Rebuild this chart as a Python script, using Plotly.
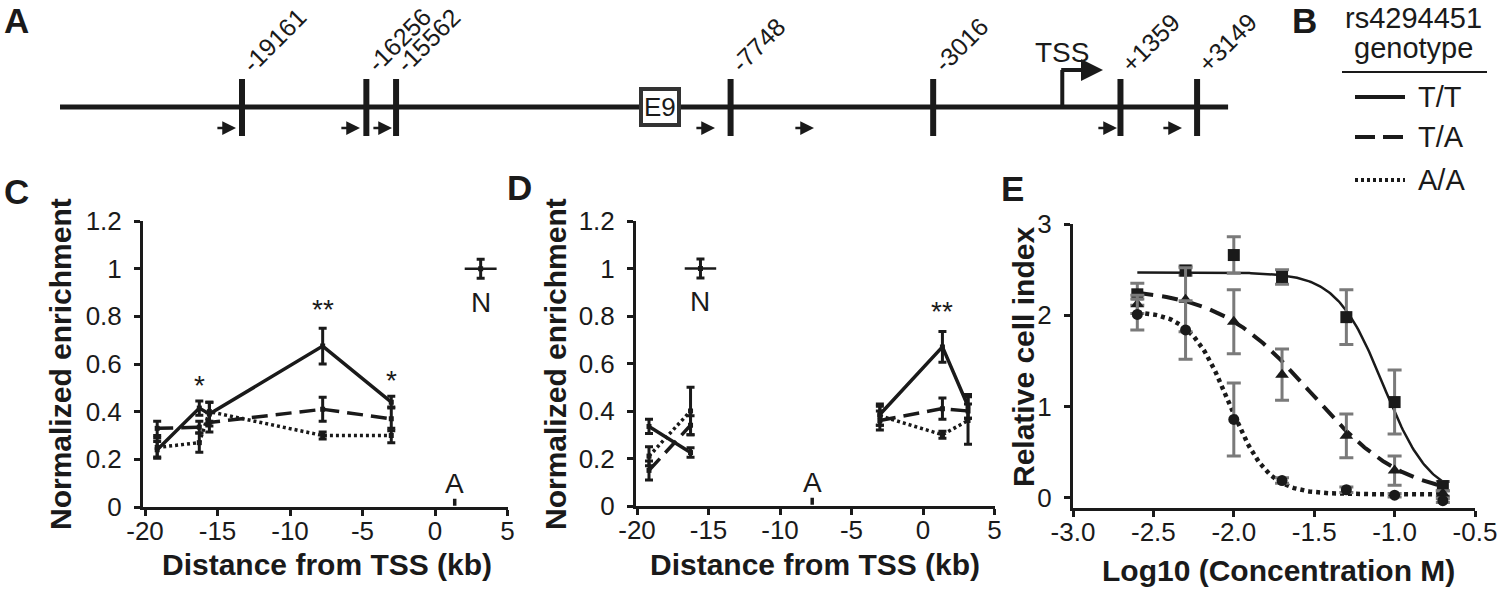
import numpy as np
import plotly.graph_objects as go

W, H = 1500, 590
FONT = "Liberation Sans, Arial, Helvetica, sans-serif"
INK = "#1a1a1a"
GRAY = "#7a7a7a"

# ---------------- Panel A: amplicon map (bp relative to TSS) ----------------
site_bp = [-19161, -16256, -15562, -7748, -3016, 1359, 3149]
site_labels = ["-19161", "-16256", "-15562", "-7748", "-3016", "+1359", "+3149"]
primer_end_bp = [-19301, -16405, -15657, -8112, -5800, 1278, 2796]
primer_len_bp = 470
gene_start_bp, gene_end_bp = -23412, 3873
tss_bp = 0
tss_arrow_end_bp = 951
e9_bp = -9400

# ---------------- Panel C ----------------
c_x = [-19.161, -16.256, -15.562, -7.748, -3.016]
c_tt = [0.24, 0.415, 0.39, 0.675, 0.44]
c_tt_err = [0.035, 0.03, 0.05, 0.075, 0.025]
c_ta = [0.33, 0.335, 0.355, 0.41, 0.37]
c_ta_err = [0.03, 0.025, 0.04, 0.05, 0.05]
c_aa = [0.25, 0.27, 0.40, 0.30, 0.30]
c_aa_err = [0.04, 0.04, 0.04, 0.015, 0.03]
c_n_x, c_n_y, c_n_err = 3.149, 1.0, 0.04
c_a_x, c_a_y, c_a_err = 1.359, 0.02, 0.015
c_star_x = [-16.256, -7.748, -3.016]
c_star_y = [0.51, 0.83, 0.53]
c_star_txt = ["*", "**", "*"]

# ---------------- Panel D ----------------
d_x = [-19.161, -16.256, None, -3.016, 1.359, 3.149]
d_tt = [0.335, 0.225, None, 0.385, 0.67, 0.42]
d_tt_err = [0.03, 0.02, 0, 0.045, 0.065, 0.05]
d_ta = [0.15, 0.34, None, 0.36, 0.41, 0.40]
d_ta_err = [0.04, 0.04, 0, 0.04, 0.045, 0.03]
d_aa = [0.21, 0.40, None, 0.38, 0.30, 0.36]
d_aa_err = [0.04, 0.10, 0, 0.04, 0.015, 0.10]
d_n_x, d_n_y, d_n_err = -15.562, 1.0, 0.04
d_a_x, d_a_y, d_a_err = -7.748, 0.02, 0.015
d_star_x = [1.359]
d_star_y = [0.82]
d_star_txt = ["**"]
n_xerr = 1.1

kb_ticks = [-20, -15, -10, -5, 0, 5]
kb_ticktext = ["-20", "-15", "-10", "-5", "0", "5"]
enr_ticks = [0, 0.2, 0.4, 0.6, 0.8, 1.0, 1.2]
enr_ticktext = ["0", "0.2", "0.4", "0.6", "0.8", "1", "1.2"]

# ---------------- Panel E ----------------
e_x = [-2.6, -2.3, -2.0, -1.7, -1.3, -1.0, -0.7]
e_tt = [2.23, 2.49, 2.66, 2.42, 1.98, 1.05, 0.13]
e_tt_err = [0.12, 0.05, 0.2, 0.08, 0.3, 0.35, 0.05]
e_ta = [2.12, 2.17, 1.93, 1.35, 0.68, 0.30, 0.05]
e_ta_err = [0.1, 0.35, 0.35, 0.28, 0.24, 0.16, 0.03]
e_aa = [2.01, 1.84, 0.86, 0.19, 0.09, 0.03, -0.03]
e_aa_err = [0.17, 0.32, 0.4, 0.03, 0.03, 0.02, 0.02]
# four-parameter logistic fits: top, bottom, logEC50, hill
e_fit_tt = [2.47, 0.0, -1.07, 3.0]
e_fit_ta = [2.30, 0.0, -1.52, 1.5]
e_fit_aa = [2.05, 0.04, -2.03, 3.6]
e_xticks = [-3.0, -2.5, -2.0, -1.5, -1.0, -0.5]
e_xticktext = ["-3.0", "-2.5", "-2.0", "-1.5", "-1.0", "-0.5"]
e_yticks = [0, 1, 2, 3]
e_yticktext = ["0", "1", "2", "3"]

geno_names = ["T/T", "T/A", "A/A"]


def px(x):
    return x / W


def py(y):
    return 1 - y / H


# layout geometry (pixels)
A_X0, A_SCALE = 242.0, 0.04281  # pixel of first site, px per bp
GENE_Y, TICK_TOP, TICK_BOT, PRIMER_Y, TSS_TOP = 107, 79, 136, 128, 70

fig = go.Figure()

# ---- Panel A traces (axis x4/y4 spans full figure; y in pixels) ----
fig.add_trace(go.Scatter(x=[gene_start_bp, gene_end_bp], y=[GENE_Y, GENE_Y], mode="lines",
                         line=dict(color=INK, width=5), xaxis="x4", yaxis="y4", hoverinfo="skip"))
tx, ty = [], []
for s in site_bp:
    tx += [s, s, None]
    ty += [TICK_TOP, TICK_BOT, None]
fig.add_trace(go.Scatter(x=tx, y=ty, mode="lines", line=dict(color=INK, width=6),
                         xaxis="x4", yaxis="y4", hoverinfo="skip"))
fig.add_trace(go.Scatter(x=[tss_bp, tss_bp], y=[GENE_Y, TSS_TOP], mode="lines",
                         line=dict(color=INK, width=4), xaxis="x4", yaxis="y4", hoverinfo="skip"))

annotations = []
for s, lab in zip(site_bp, site_labels):
    annotations.append(dict(x=s, y=TICK_TOP + 1, xref="x4", yref="y4", text=lab, showarrow=False,
                            textangle=-45, xanchor="left", yanchor="bottom", xshift=-8,
                            font=dict(size=25, color=INK, family=FONT)))
for e in primer_end_bp:
    annotations.append(dict(x=e, y=PRIMER_Y, ax=e - primer_len_bp, ay=PRIMER_Y, xref="x4", yref="y4",
                            axref="x4", ayref="y4", text="", showarrow=True, arrowhead=2,
                            arrowsize=1.1, arrowwidth=2.5, arrowcolor=INK))
annotations.append(dict(x=tss_arrow_end_bp, y=TSS_TOP, ax=tss_bp - 60, ay=TSS_TOP, xref="x4", yref="y4",
                        axref="x4", ayref="y4", text="", showarrow=True, arrowhead=2,
                        arrowsize=1.1, arrowwidth=4, arrowcolor=INK))
annotations.append(dict(x=tss_bp, y=52, xref="x4", yref="y4", text="TSS", showarrow=False,
                        xanchor="center", yanchor="middle",
                        font=dict(size=28, color=INK, family=FONT)))
annotations.append(dict(x=e9_bp, y=GENE_Y, xref="x4", yref="y4", text="E9", showarrow=False,
                        xanchor="center", yanchor="middle",
                        font=dict(size=26, color=INK, family=FONT), bgcolor="white",
                        bordercolor="#333333", borderwidth=4, borderpad=1))

# ---- Panel C / D traces ----
styles = [dict(dash="solid", width=3.5), dict(dash="16px,8px", width=3.5), dict(dash="3px,3px", width=3.5)]


def add_series(xs, ys, errs, style, xa, ya):
    fig.add_trace(go.Scatter(
        x=xs, y=ys, mode="lines+markers", xaxis=xa, yaxis=ya,
        line=dict(color=INK, width=style["width"], dash=style["dash"]),
        marker=dict(symbol="square", size=5, color=INK),
        error_y=dict(type="data", array=errs, color=INK, thickness=3, width=4),
        hoverinfo="skip", connectgaps=False))


for ys, es, st in zip([c_tt, c_ta, c_aa], [c_tt_err, c_ta_err, c_aa_err], styles):
    add_series(c_x, ys, es, st, "x", "y")
for ys, es, st in zip([d_tt, d_ta, d_aa], [d_tt_err, d_ta_err, d_aa_err], styles):
    add_series(d_x, ys, es, st, "x2", "y2")

for (nx, ny, ne, xa, ya) in [(c_n_x, c_n_y, c_n_err, "x", "y"), (d_n_x, d_n_y, d_n_err, "x2", "y2")]:
    fig.add_trace(go.Scatter(x=[nx], y=[ny], mode="markers", xaxis=xa, yaxis=ya,
                             marker=dict(symbol="square", size=5, color=INK),
                             error_y=dict(type="data", array=[ne], color=INK, thickness=3, width=4),
                             error_x=dict(type="data", array=[n_xerr], color=INK, thickness=2.5, width=0),
                             hoverinfo="skip"))
for (ax_, ay_, ae, xa, ya) in [(c_a_x, c_a_y, c_a_err, "x", "y"), (d_a_x, d_a_y, d_a_err, "x2", "y2")]:
    fig.add_trace(go.Scatter(x=[ax_], y=[ay_], mode="markers", xaxis=xa, yaxis=ya,
                             marker=dict(size=1, color=INK),
                             error_y=dict(type="data", array=[ae], color=INK, thickness=3.5, width=0),
                             hoverinfo="skip"))

txtfont = dict(size=28, color=INK, family=FONT)
for xs, ys, ts, xr, yr in [(c_star_x, c_star_y, c_star_txt, "x", "y"), (d_star_x, d_star_y, d_star_txt, "x2", "y2")]:
    for sx, sy, st in zip(xs, ys, ts):
        annotations.append(dict(x=sx, y=sy, xref=xr, yref=yr, text=st, showarrow=False, font=txtfont,
                                xanchor="center", yanchor="middle"))
for (nx, ax_, xr, yr) in [(c_n_x, c_a_x, "x", "y"), (d_n_x, d_a_x, "x2", "y2")]:
    annotations.append(dict(x=nx, y=0.86, xref=xr, yref=yr, text="N", showarrow=False, font=txtfont,
                            xanchor="center", yanchor="middle"))
    annotations.append(dict(x=ax_, y=0.10, xref=xr, yref=yr, text="A", showarrow=False, font=txtfont,
                            xanchor="center", yanchor="middle"))


# ---- Panel E traces ----
def logistic(x, p):
    top, bot, ec, hill = p
    return bot + (top - bot) / (1 + 10 ** ((x - ec) * hill))


xfit = np.linspace(min(e_x), max(e_x), 200)
e_styles = [dict(dash="solid", width=2.5), dict(dash="16px,9px", width=4), dict(dash="4px,4px", width=4.5)]
for fit, st in zip([e_fit_tt, e_fit_ta, e_fit_aa], e_styles):
    fig.add_trace(go.Scatter(x=xfit, y=logistic(xfit, fit), mode="lines", xaxis="x3", yaxis="y3",
                             line=dict(color=INK, width=st["width"], dash=st["dash"]), hoverinfo="skip"))
for ys, es, sym, sz in zip([e_tt, e_ta, e_aa], [e_tt_err, e_ta_err, e_aa_err],
                           ["square", "triangle-up", "circle"], [12, 12, 11]):
    fig.add_trace(go.Scatter(x=e_x, y=ys, mode="markers", xaxis="x3", yaxis="y3",
                             marker=dict(symbol=sym, size=sz, color=INK),
                             error_y=dict(type="data", array=es, color=GRAY, thickness=3, width=7),
                             hoverinfo="skip"))

# ---- Panel B legend (drawn) ----
shapes = [dict(type="line", xref="paper", yref="paper", x0=px(1342), x1=px(1487), y0=py(72), y1=py(72),
               line=dict(color=INK, width=2))]
leg_y = [97, 137, 180]
leg_dash = ["solid", "20px,8px", "3px,3px"]
for name, yy, dsh in zip(geno_names, leg_y, leg_dash):
    shapes.append(dict(type="line", xref="paper", yref="paper", x0=px(1355), x1=px(1405), y0=py(yy), y1=py(yy),
                       line=dict(color=INK, width=4, dash=dsh)))
    annotations.append(dict(x=px(1416), y=py(yy), xref="paper", yref="paper", text=name, showarrow=False,
                            xanchor="left", yanchor="middle", font=dict(size=29, color=INK, family=FONT)))
annotations.append(dict(x=px(1413), y=py(18), xref="paper", yref="paper", text="rs4294451", showarrow=False,
                        xanchor="center", yanchor="middle", height=24, valign="middle",
                        font=dict(size=29, color=INK, family=FONT)))
annotations.append(dict(x=px(1413), y=py(48), xref="paper", yref="paper", text="genotype", showarrow=False,
                        xanchor="center", yanchor="middle", height=32, valign="middle",
                        font=dict(size=29, color=INK, family=FONT)))

# panel letters
for lab, lx, ly in [("A", 16, 20), ("B", 1304, 20), ("C", 16, 191), ("D", 519, 187), ("E", 1012, 189)]:
    annotations.append(dict(x=px(lx), y=py(ly), xref="paper", yref="paper", text=lab,
                            xanchor="center", yanchor="middle",
                            showarrow=False, font=dict(size=35, color=INK, family=FONT, weight="bold")))

# axis titles
bold = dict(size=30, color=INK, family=FONT, weight="bold")
for t, x, y, ang in [("Normalized enrichment", 60, 364, -90), ("Distance from TSS (kb)", 327, 564, 0),
                     ("Normalized enrichment", 555, 364, -90), ("Distance from TSS (kb)", 815, 564, 0),
                     ("Relative cell index", 1023, 357, -90), ("Log10 (Concentration M)", 1278, 570, 0)]:
    annotations.append(dict(x=px(x), y=py(y), xref="paper", yref="paper", text=t,
                            xanchor="center", yanchor="middle",
                            showarrow=False, textangle=ang, font=bold))

tickfont = dict(size=26, color=INK, family=FONT)
axcommon = dict(showgrid=False, zeroline=False, showline=True, linecolor=INK, linewidth=3,
                ticks="outside", ticklen=6, tickwidth=3, tickcolor=INK, tickfont=tickfont,
                tickmode="array", fixedrange=True, automargin=False)

a_left = site_bp[0] - A_X0 / A_SCALE
a_right = site_bp[0] + (W - A_X0) / A_SCALE

fig.update_layout(
    width=W, height=H, margin=dict(l=0, r=0, t=0, b=0, pad=0, autoexpand=False),
    paper_bgcolor="white", plot_bgcolor="rgba(0,0,0,0)", showlegend=False,
    font=dict(family=FONT, color=INK),
    xaxis=dict(domain=[px(143), px(507.5)], range=[-20.14, 5], anchor="y",
               tickvals=kb_ticks, ticktext=kb_ticktext, ticklabelstandoff=-7, **axcommon),
    yaxis=dict(domain=[py(507), py(221)], range=[0, 1.2], anchor="x",
               tickvals=enr_ticks, ticktext=enr_ticktext, ticklabelstandoff=7, **axcommon),
    xaxis2=dict(domain=[px(636), px(994.5)], range=[-20.07, 5], anchor="y2",
                tickvals=kb_ticks, ticktext=kb_ticktext, ticklabelstandoff=-7, **axcommon),
    yaxis2=dict(domain=[py(506), py(221)], range=[0, 1.2], anchor="x2",
                tickvals=enr_ticks, ticktext=enr_ticktext, ticklabelstandoff=7, **axcommon),
    xaxis3=dict(domain=[px(1073), px(1475)], range=[-3, -0.5], anchor="y3",
                tickvals=e_xticks, ticktext=e_xticktext, ticklabelstandoff=-7, **axcommon),
    yaxis3=dict(domain=[py(508), py(224)], range=[-0.11, 3], anchor="x3",
                tickvals=e_yticks, ticktext=e_yticktext, ticklabelstandoff=7, **axcommon),
    xaxis4=dict(domain=[0, 1], range=[a_left, a_right], visible=False, fixedrange=True,
                anchor="y4", automargin=False),
    yaxis4=dict(domain=[0, 1], range=[H, 0], visible=False, fixedrange=True,
                anchor="x4", automargin=False),
    annotations=annotations, shapes=shapes,
)

fig.write_html("out.html", config={"displayModeBar": False},
               post_script="document.body.style.margin='0px';document.body.style.padding='0px';")
